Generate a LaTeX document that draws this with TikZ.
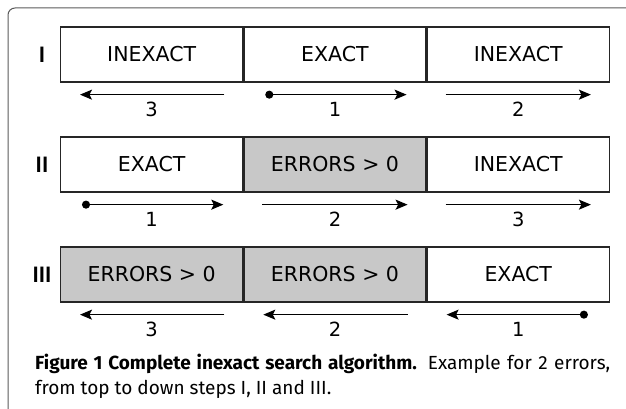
\documentclass[tikz,border=0pt]{standalone}
\usepackage{fontspec}
\setmainfont{DejaVu Sans}
\newfontfamily\capfont{Fira Sans}
\newfontfamily\labfont{PT Sans}
\definecolor{errgray}{RGB}{200,200,200}
\definecolor{framegray}{RGB}{90,90,90}
\usetikzlibrary{arrows.meta, positioning}
\tikzset{
	cell/.style={rectangle, draw=black!85, line width=1.3pt, minimum width=182pt, minimum height=55pt, inner sep=0pt, font=\fontsize{20.5}{24}\selectfont},
	errcell/.style={cell, fill=errgray},
	rowlab/.style={font=\labfont\bfseries\fontsize{22}{24}\selectfont, inner sep=0pt},
	steplab/.style={font=\fontsize{19.5}{22}\selectfont, inner sep=0pt},
	fwd/.style={-{Stealth[length=12pt, width=10pt, inset=2.5pt]}, line width=1.4pt},
	fwddot/.style={{Circle[length=8pt]}-{Stealth[length=12pt, width=10pt, inset=2.5pt]}, line width=1.4pt},
	capline/.style={font=\capfont\fontsize{19}{25}\selectfont, inner sep=0pt, anchor=base west},
}
\begin{document}
\begin{tikzpicture}[x=1pt, y=-1pt]
	\useasboundingbox (0,0) rectangle (626,409);
	\draw[framegray, line width=1pt, rounded corners=7pt] (8,409) -- (8,8) -- (626,8);
	% step I
	\node[cell, anchor=west] (r1a) at (60,54.5) {INEXACT};
	\node[cell, right=0pt of r1a] (r1b) {EXACT};
	\node[cell, right=0pt of r1b] (r1c) {INEXACT};
	\node[rowlab] (l1) at ([xshift=-18pt]r1a.west) {I};
	% step II
	\node[cell, anchor=west] (r2a) at (60,164.5) {EXACT};
	\node[errcell, right=0pt of r2a] (r2b) {ERRORS > 0};
	\node[cell, right=0pt of r2b] (r2c) {INEXACT};
	\node[rowlab] (l2) at ([xshift=-18pt]r2a.west) {II};
	% step III
	\node[errcell, anchor=west] (r3a) at (60,274.5) {ERRORS > 0};
	\node[errcell, right=0pt of r3a] (r3b) {ERRORS > 0};
	\node[cell, right=0pt of r3b] (r3c) {EXACT};
	\node[rowlab] (l3) at ([xshift=-18pt]r3a.west) {III};
	% search directions
	\draw[fwd] ([xshift=-19pt, yshift=-12pt]r1a.south east) -- ([xshift=20pt, yshift=-12pt]r1a.south west);
	\draw[fwddot] ([xshift=22pt, yshift=-12pt]r1b.south west) -- ([xshift=-20pt, yshift=-12pt]r1b.south east);
	\draw[fwd] ([xshift=19pt, yshift=-12pt]r1c.south west) -- ([xshift=-19pt, yshift=-12pt]r1c.south east);
	\draw[fwddot] ([xshift=22pt, yshift=-12pt]r2a.south west) -- ([xshift=-20pt, yshift=-12pt]r2a.south east);
	\draw[fwd] ([xshift=19pt, yshift=-12pt]r2b.south west) -- ([xshift=-19pt, yshift=-12pt]r2b.south east);
	\draw[fwd] ([xshift=19pt, yshift=-12pt]r2c.south west) -- ([xshift=-19pt, yshift=-12pt]r2c.south east);
	\draw[fwd] ([xshift=-19pt, yshift=-12pt]r3a.south east) -- ([xshift=20pt, yshift=-12pt]r3a.south west);
	\draw[fwd] ([xshift=-19pt, yshift=-12pt]r3b.south east) -- ([xshift=20pt, yshift=-12pt]r3b.south west);
	\draw[fwddot] ([xshift=-22pt, yshift=-12pt]r3c.south east) -- ([xshift=20pt, yshift=-12pt]r3c.south west);
	\node[steplab] (n1a) at ([yshift=-27pt]r1a.south) {3};
	\node[steplab] (n1b) at ([yshift=-27pt]r1b.south) {1};
	\node[steplab] (n1c) at ([yshift=-27pt]r1c.south) {2};
	\node[steplab] (n2a) at ([yshift=-27pt]r2a.south) {1};
	\node[steplab] (n2b) at ([yshift=-27pt]r2b.south) {2};
	\node[steplab] (n2c) at ([yshift=-27pt]r2c.south) {3};
	\node[steplab] (n3a) at ([yshift=-27pt]r3a.south) {3};
	\node[steplab] (n3b) at ([yshift=-27pt]r3b.south) {2};
	\node[steplab] (n3c) at ([yshift=-27pt]r3c.south) {1};
	% caption
	\node[capline] (cap1) at (35,369) {\hbox to 575pt{\textbf{Figure 1 Complete inexact search algorithm.} Example for 2 errors,}};
	\node[capline] (cap2) at (35,394) {from top to down steps I, II and III.};
\end{tikzpicture}
\end{document}
